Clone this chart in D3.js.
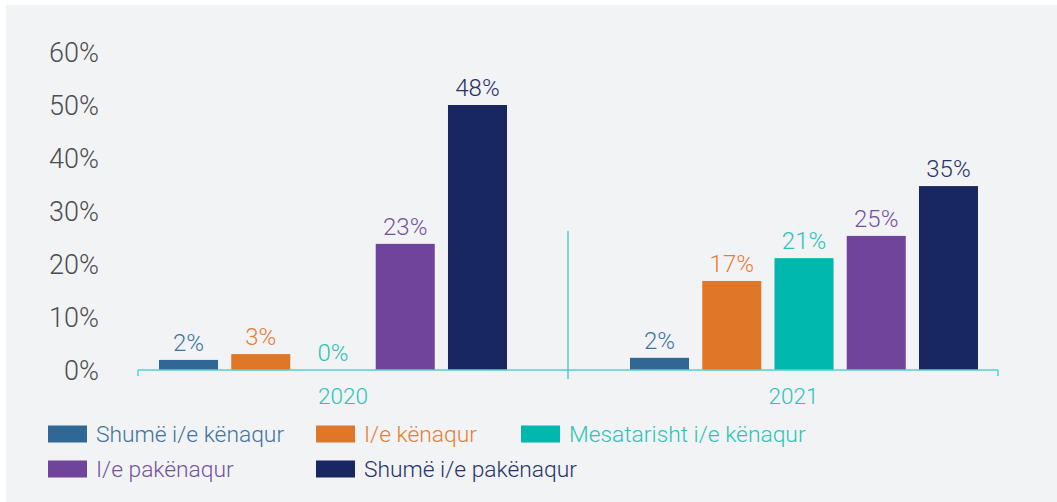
<!DOCTYPE html>
<html>
<head>
<meta charset="utf-8">
<script src="https://cdn.jsdelivr.net/npm/d3@7"></script>
<style>
  body { margin: 0; background: #ffffff; }
  svg text { font-family: Roboto, "Open Sans", sans-serif; font-weight: 300; }
</style>
</head>
<body>
<svg id="chart" width="1057" height="502"></svg>
<script>
// data
const years = ["2020", "2021"];
const series = ["Shumë i/e kënaqur", "I/e kënaqur", "Mesatarisht i/e kënaqur", "I/e pakënaqur", "Shumë i/e pakënaqur"];
const values2020 = [1.9, 3.0, 0, 23.8, 50.0];
const values2021 = [2.3, 16.8, 21.1, 25.3, 34.7];
const labels2020 = ["2%", "3%", "0%", "23%", "48%"];
const labels2021 = ["2%", "17%", "21%", "25%", "35%"];
const yTicks = [0, 10, 20, 30, 40, 50, 60];

const barColors = ["#2f6893", "#e07627", "#00b8ad", "#6f449a", "#18275f"];
const textColors = ["#3f73a0", "#e57e35", "#2cc3b7", "#74529f", "#27326a"];

let svg = d3.select("#chart");

svg.append("rect")
  .attr("x", 6).attr("y", 5)
  .attr("width", 1051).attr("height", 497)
  .attr("fill", "#f2f3f5");

let x0 = d3.scaleBand().domain(years).range([138, 998]);
let y = d3.scaleLinear().domain([0, 60]).range([370, 52]);

// bars sit to the left in 2020 and to the right in 2021
let groupOffset = [21, 62];
let x1 = d3.scaleBand().domain(series).range([0, 348]).paddingInner(0.183);

// y labels
svg.selectAll("text.ytick")
  .data(yTicks)
  .enter()
  .append("text")
  .attr("class", "ytick")
  .attr("x", 99)
  .attr("y", (d) => y(d))
  .attr("dy", "0.36em")
  .attr("text-anchor", "end")
  .attr("font-size", 27)
  .attr("fill", "#4d4d4f")
  .text((d) => d + "%");

let rows = [values2020, values2021];
let rowLabels = [labels2020, labels2021];

let groups = svg.selectAll("g.year")
  .data(years)
  .enter()
  .append("g")
  .attr("class", "year")
  .attr("transform", (d, i) => `translate(${x0(d) + groupOffset[i]},0)`);

groups.selectAll("rect")
  .data((d, i) => series.map((s, j) => ({ s: s, j: j, v: rows[i][j], label: rowLabels[i][j] })))
  .enter()
  .append("rect")
  .attr("x", (d) => x1(d.s))
  .attr("y", (d) => y(d.v))
  .attr("width", x1.bandwidth())
  .attr("height", (d) => y(0) - y(d.v))
  .attr("fill", (d) => barColors[d.j]);

groups.selectAll("text.val")
  .data((d, i) => series.map((s, j) => ({ s: s, j: j, v: rows[i][j], label: rowLabels[i][j] })))
  .enter()
  .append("text")
  .attr("class", "val")
  .attr("x", (d) => x1(d.s) + x1.bandwidth() / 2)
  .attr("y", (d) => y(d.v) - 9)
  .attr("text-anchor", "middle")
  .attr("font-size", 24)
  .attr("fill", (d) => textColors[d.j])
  .text((d) => d.label);

// axis line + ticks
let axisColor = "#4fd3c8";
svg.append("line")
  .attr("x1", x0.range()[0]).attr("x2", x0.range()[1])
  .attr("y1", y(0)).attr("y2", y(0))
  .attr("stroke", axisColor).attr("stroke-width", 1.5);

svg.append("line")
  .attr("x1", x0.range()[0]).attr("x2", x0.range()[0])
  .attr("y1", y(0)).attr("y2", y(0) + 6)
  .attr("stroke", axisColor).attr("stroke-width", 1.5);
svg.append("line")
  .attr("x1", x0.range()[1]).attr("x2", x0.range()[1])
  .attr("y1", y(0)).attr("y2", y(0) + 6)
  .attr("stroke", axisColor).attr("stroke-width", 1.5);
// divider between years
svg.append("line")
  .attr("x1", x0("2021")).attr("x2", x0("2021"))
  .attr("y1", 231).attr("y2", y(0) + 9)
  .attr("stroke", "#2cc3b7").attr("stroke-width", 1.2);

// year labels, halfway between group centre and bar span centre
svg.selectAll("text.yr")
  .data(years)
  .enter()
  .append("text")
  .attr("class", "yr")
  .attr("x", (d, i) => {
    let gc = x0(d) + x0.bandwidth() / 2;
    let bc = x0(d) + groupOffset[i] + 174;
    return (gc + bc) / 2;
  })
  .attr("y", 404)
  .attr("text-anchor", "middle")
  .attr("font-size", 22.5)
  .attr("fill", "#2cc3b7")
  .text((d) => d);

// legend
let legendPos = [
  [48, 434], [316, 434], [521, 434],
  [48, 469], [316, 469]
];
let legend = svg.selectAll("g.legend")
  .data(series)
  .enter()
  .append("g")
  .attr("class", "legend")
  .attr("transform", (d, i) => `translate(${legendPos[i][0]},${legendPos[i][1]})`);

legend.append("rect")
  .attr("x", 0).attr("y", -8.5)
  .attr("width", 39).attr("height", 17)
  .attr("fill", (d, i) => barColors[i]);

legend.append("text")
  .attr("x", 48)
  .attr("y", 0)
  .attr("dy", "0.36em")
  .attr("font-size", 22.8)
  .attr("fill", (d, i) => textColors[i])
  .text((d) => d);
</script>
</body>
</html>
